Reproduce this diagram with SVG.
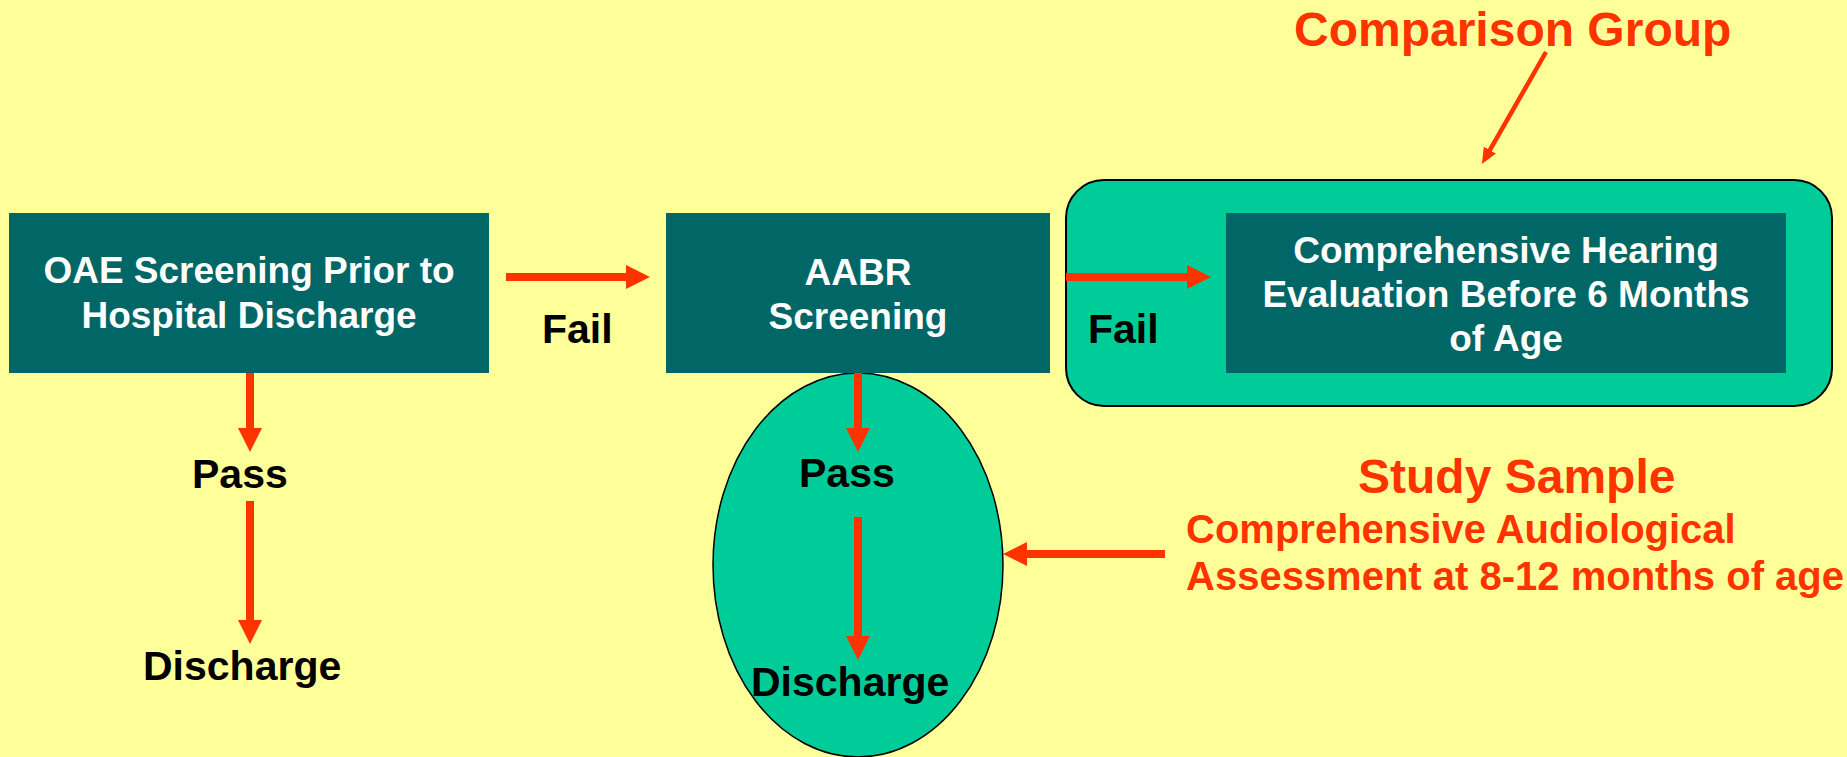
<svg xmlns="http://www.w3.org/2000/svg" width="1847" height="757" viewBox="0 0 1847 757">
<defs>
<style>
.bg{fill:#FFFF99}
.box{fill:#006666}
.grp{fill:#00CC99;stroke:#000;stroke-width:2}
.wt{font-family:"Liberation Sans",Arial,sans-serif;font-weight:bold;font-size:37px;fill:#fff;text-anchor:middle}
.lbl{font-family:"Liberation Sans",Arial,sans-serif;font-weight:bold;font-size:41px;fill:#000}
.red{font-family:"Liberation Sans",Arial,sans-serif;font-weight:bold;fill:#FF3300}
.conn{stroke:#FF3300;stroke-width:8;fill:none}
.thin{stroke:#FF3300;stroke-width:4.5;fill:none}
</style>
<marker id="head" markerUnits="userSpaceOnUse" markerWidth="24" markerHeight="24" refX="4" refY="12" orient="auto">
<path d="M0,0 L24,12 L0,24 z" fill="#FF3300"/>
</marker>
<marker id="headSmall" markerUnits="userSpaceOnUse" markerWidth="16" markerHeight="14" refX="3" refY="7" orient="auto">
<path d="M0,0 L16,7 L0,14 z" fill="#FF3300"/>
</marker>
</defs>
<rect class="bg" x="0" y="0" width="1847" height="757"/>

<g id="comparison-group">
<rect class="grp" x="1066" y="180" width="766" height="226" rx="38" ry="38"/>
</g>
<g id="study-ellipse">
<ellipse cx="858" cy="565" rx="145" ry="192" fill="#00CC99" stroke="#000" stroke-width="1.5"/>
</g>

<g id="oae">
<rect class="box" x="9" y="213" width="480" height="160"/>
<text class="wt" x="249" y="283">OAE Screening Prior to</text>
<text class="wt" x="249" y="328">Hospital Discharge</text>
</g>
<g id="aabr">
<rect class="box" x="666" y="213" width="384" height="160"/>
<text class="wt" x="858" y="285">AABR</text>
<text class="wt" x="858" y="329">Screening</text>
</g>
<g id="evaluation">
<rect class="box" x="1226" y="213" width="560" height="160"/>
<text class="wt" x="1506" y="263">Comprehensive Hearing</text>
<text class="wt" x="1506" y="307">Evaluation Before 6 Months</text>
<text class="wt" x="1506" y="351">of Age</text>
</g>

<g id="labels">
<text class="lbl" x="542" y="343">Fail</text>
<text class="lbl" x="1088" y="343">Fail</text>
<text class="lbl" x="192" y="488">Pass</text>
<text class="lbl" x="143" y="680">Discharge</text>
<text class="lbl" x="799" y="487">Pass</text>
<text class="lbl" x="751" y="696">Discharge</text>
</g>

<g id="annotations">
<text class="red" x="1294" y="46" font-size="48">Comparison Group</text>
<text class="red" x="1358" y="493" font-size="48">Study Sample</text>
<text class="red" x="1186" y="543" font-size="40">Comprehensive Audiological</text>
<text class="red" x="1186" y="590" font-size="40">Assessment at 8-12 months of age</text>
</g>

<g id="connectors">
<line class="conn" x1="506" y1="277" x2="630" y2="277" marker-end="url(#head)"/>
<line class="conn" x1="1066" y1="277" x2="1191" y2="277" marker-end="url(#head)"/>
<line class="conn" x1="250" y1="373" x2="250" y2="432" marker-end="url(#head)"/>
<line class="conn" x1="250" y1="501" x2="250" y2="624" marker-end="url(#head)"/>
<line class="conn" x1="858" y1="373" x2="858" y2="432" marker-end="url(#head)"/>
<line class="conn" x1="858" y1="517" x2="858" y2="640" marker-end="url(#head)"/>
<line class="conn" x1="1165" y1="554" x2="1023" y2="554" marker-end="url(#head)"/>
<line class="thin" x1="1546" y1="52" x2="1488.4" y2="152.7" marker-end="url(#headSmall)"/>
</g>
</svg>
